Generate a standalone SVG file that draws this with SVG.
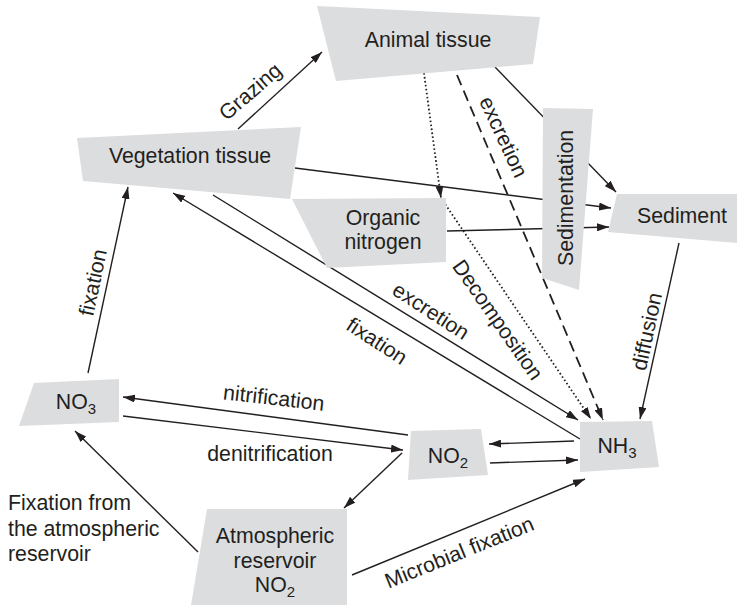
<svg xmlns="http://www.w3.org/2000/svg" width="737" height="609" viewBox="0 0 737 609">
<style>
text{font-family:"Liberation Sans",Arial,sans-serif;font-size:21.3px;fill:#231f20}
.box{fill:#dcdddf;stroke:none}
.c{fill:none;stroke:#231f20;stroke-width:1.4}
.dash{stroke-dasharray:11 6;stroke-width:1.8}
.dot{stroke-dasharray:1.6 2.4;stroke-width:1.8}
.m{text-anchor:middle}
.sub{font-size:15px}
</style>
<defs>
<marker id="arr" viewBox="0 0 12 8" refX="12" refY="4" markerWidth="12" markerHeight="8" orient="auto" markerUnits="userSpaceOnUse">
<path d="M0,0 L12,4 L0,8 z" fill="#231f20"/>
</marker>
</defs>
<g id="connectors">
<line class="c" x1="238" y1="129" x2="322" y2="52" marker-end="url(#arr)"/>
<line class="c" x1="495" y1="67" x2="616" y2="192" marker-end="url(#arr)"/>
<line class="c" x1="295" y1="168" x2="611" y2="208" marker-end="url(#arr)"/>
<line class="c" x1="447" y1="231" x2="609" y2="227" marker-end="url(#arr)"/>
<line class="c" x1="679" y1="243" x2="640" y2="419" marker-end="url(#arr)"/>
<line class="c dot" x1="424" y1="73" x2="441" y2="198" marker-end="url(#arr)"/>
<line class="c dot" x1="443" y1="201" x2="591" y2="419" marker-end="url(#arr)"/>
<line class="c dash" x1="457" y1="75" x2="603" y2="420" marker-end="url(#arr)"/>
<line class="c" x1="213" y1="195" x2="578" y2="420" marker-end="url(#arr)"/>
<line class="c" x1="580" y1="439" x2="173" y2="193" marker-end="url(#arr)"/>
<line class="c" x1="88" y1="373" x2="128" y2="187" marker-end="url(#arr)"/>
<line class="c" x1="408" y1="435" x2="123" y2="397" marker-end="url(#arr)"/>
<line class="c" x1="123" y1="416" x2="403" y2="450" marker-end="url(#arr)"/>
<line class="c" x1="574" y1="441" x2="489" y2="444" marker-end="url(#arr)"/>
<line class="c" x1="490" y1="463" x2="578" y2="460" marker-end="url(#arr)"/>
<line class="c" x1="402" y1="453" x2="344" y2="508" marker-end="url(#arr)"/>
<line class="c" x1="198" y1="552" x2="75" y2="431" marker-end="url(#arr)"/>
<line class="c" x1="352" y1="575" x2="585" y2="479" marker-end="url(#arr)"/>
</g>
<g id="labels">
<text class="m" transform="translate(255,97) rotate(-41)">Grazing</text>
<text class="m" transform="translate(497,140) rotate(65)">excretion</text>
<text class="m" transform="translate(492,324) rotate(55)">Decomposition</text>
<text class="m" transform="translate(427,317) rotate(33)">excretion</text>
<text class="m" transform="translate(373,347) rotate(33)">fixation</text>
<text class="m" transform="translate(100,284) rotate(-78)">fixation</text>
<text class="m" transform="translate(654,333) rotate(-78)">diffusion</text>
<text class="m" transform="translate(273,405) rotate(6.5)">nitrification</text>
<text class="m" x="270" y="461">denitrification</text>
<text class="m" transform="translate(462,559) rotate(-22)">Microbial fixation</text>
<text x="8" y="510">Fixation from</text>
<text x="8" y="536">the atmospheric</text>
<text x="8" y="561">reservoir</text>
</g>
<g id="animal-tissue">
<polygon class="box" points="317,6 540,17 533,64 336,81"/>
<text class="m" x="428" y="47">Animal tissue</text>
</g>
<g id="vegetation-tissue">
<polygon class="box" points="77,138 301,127 290,199 83,181"/>
<text class="m" x="190" y="163">Vegetation tissue</text>
</g>
<g id="organic-nitrogen">
<polygon class="box" points="292,199 446,198 446,262 327,268"/>
<text class="m" x="383" y="225">Organic</text>
<text class="m" x="383" y="249">nitrogen</text>
</g>
<g id="sedimentation">
<polygon class="box" points="543,108 593,109 579,290 542,278"/>
<text class="m" transform="translate(573,198) rotate(-90)">Sedimentation</text>
</g>
<g id="sediment">
<polygon class="box" points="617,194 737,194 737,243 608,232"/>
<text class="m" x="682" y="223">Sediment</text>
</g>
<g id="no3">
<polygon class="box" points="34,383 119,379 119,422 19,426"/>
<text class="m" x="76" y="409">NO<tspan class="sub" dy="5">3</tspan></text>
</g>
<g id="no2">
<polygon class="box" points="411,431 481,429 488,475 408,480"/>
<text class="m" x="448" y="463">NO<tspan class="sub" dy="5">2</tspan></text>
</g>
<g id="nh3">
<polygon class="box" points="580,422 652,421 659,467 580,472"/>
<text class="m" x="617" y="453">NH<tspan class="sub" dy="5">3</tspan></text>
</g>
<g id="atmospheric-reservoir">
<polygon class="box" points="207,509 347,509 347,605 191,605"/>
<text class="m" x="275" y="543">Atmospheric</text>
<text class="m" x="275" y="568">reservoir</text>
<text class="m" x="275" y="592">NO<tspan class="sub" dy="5">2</tspan></text>
</g>
</svg>
